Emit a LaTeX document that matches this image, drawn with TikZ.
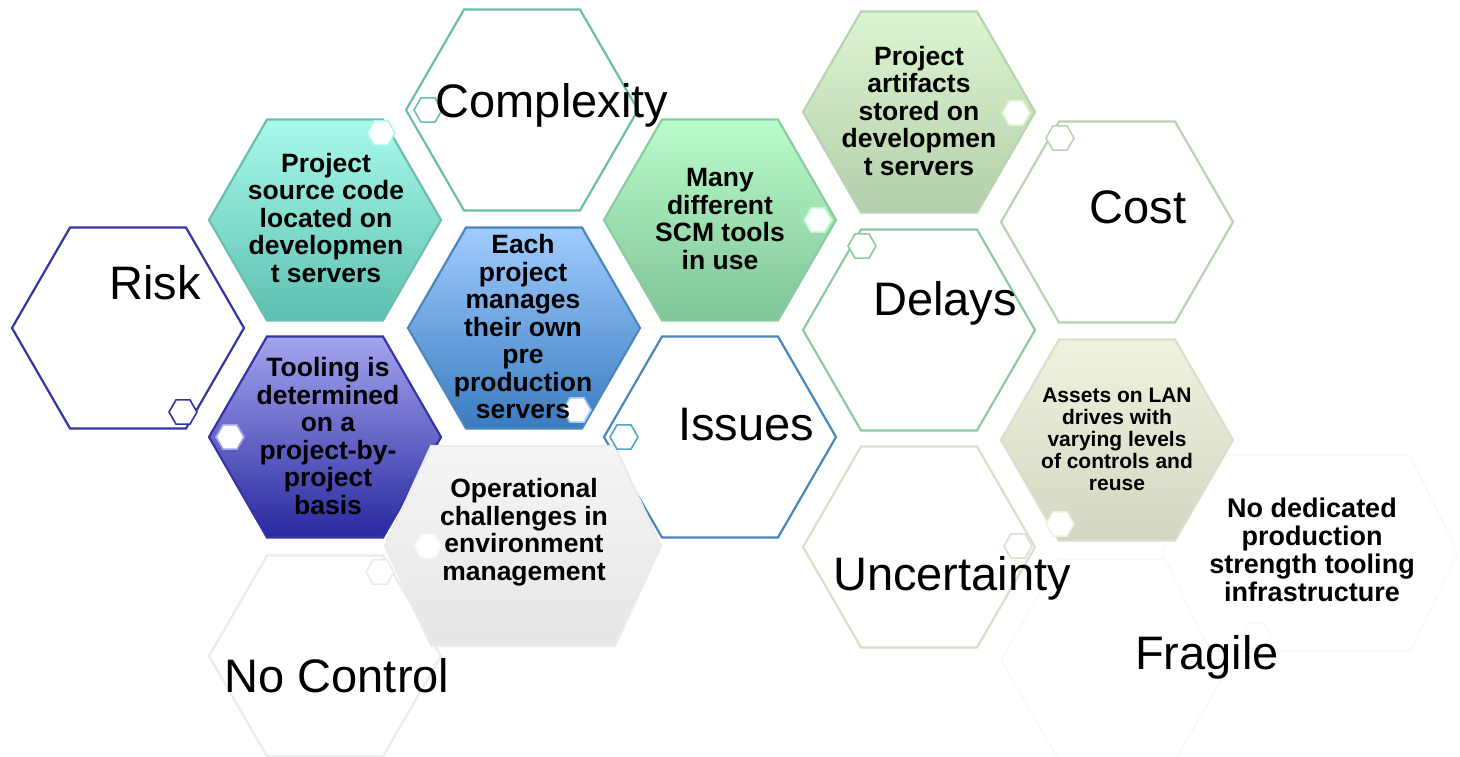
\documentclass[tikz,border=0pt]{standalone}
\usepackage{fontspec}
\setmainfont{Liberation Sans}
\usetikzlibrary{shapes.geometric}
\definecolor{navyline}{HTML}{3434A4}
\definecolor{tealline}{HTML}{6BBDAE}
\definecolor{blueline}{HTML}{4A86BE}
\definecolor{greenline}{HTML}{8ACB9F}
\definecolor{sageline}{HTML}{B7D3AF}
\definecolor{oliveline}{HTML}{DCDDCB}
\definecolor{grayline}{HTML}{EBEBEB}
\definecolor{paleline}{HTML}{F7F7F7}
\definecolor{cyanline}{HTML}{4AA8C8}
\definecolor{tealtop}{HTML}{A8FAEA}
\definecolor{tealbot}{HTML}{5DC0B0}
\definecolor{navytop}{HTML}{A4A4EE}
\definecolor{navybot}{HTML}{2828A0}
\definecolor{bluetop}{HTML}{A0CCFF}
\definecolor{bluebot}{HTML}{3A7BBF}
\definecolor{greentop}{HTML}{BAFCCA}
\definecolor{greenbot}{HTML}{7FC497}
\definecolor{sagetop}{HTML}{DDF6D2}
\definecolor{sagebot}{HTML}{B3CEAA}
\definecolor{olivetop}{HTML}{EFF2DE}
\definecolor{olivebot}{HTML}{D2D7C2}
\definecolor{graytop}{HTML}{F5F5F3}
\definecolor{graybot}{HTML}{E6E6E4}
\tikzset{
    every node/.style={inner sep=0pt, outer sep=0pt}
}
\tikzset{
    cell/.style={regular polygon, regular polygon sides=6, minimum size=232pt,
        line width=2.2pt, fill=white},
    knob/.style={regular polygon, regular polygon sides=6, minimum size=28pt,
        line width=1.6pt, fill=white},
    tag/.style={font=\fontsize{47}{56}\selectfont},
    note/.style={align=center, font=\bfseries\fontsize{26.5}{27.5}\selectfont}
}

\begin{document}
\begin{tikzpicture}[x=1pt, y=-1pt]
	\useasboundingbox (0,0) rectangle (1460,757);

	\node (risk) [cell, draw=navyline] at (128,328) {};
	\node (complexity) [cell, draw=tealline] at (522,110) {};
	\node (issues) [cell, draw=blueline] at (720,437) {};
	\node (delays) [cell, draw=greenline] at (919,330) {};
	\node (cost) [cell, draw=sageline] at (1117,222) {};
	\node (uncertainty) [cell, draw=oliveline] at (919,547) {};
	\node (nocontrol) [cell, draw=grayline] at (325,656) {};
	\node (fragile) [cell, draw=paleline, line width=1.2pt] at (1117,660) {};
	\path[draw=paleline, line width=1.2pt, fill=white] (1162,553) -- (1210,455)
		-- (1410,455) -- (1458,553) -- (1410,651) -- (1210,651) -- cycle;

	\node (srccode) [cell, draw=tealline, top color=tealtop,
		bottom color=tealbot] at (325,220) {};
	\node (tooling) [cell, draw=navyline, top color=navytop,
		bottom color=navybot] at (325,437) {};
	\node (eachproj) [cell, draw=blueline, top color=bluetop,
		bottom color=bluebot] at (524,328) {};
	\node (scm) [cell, draw=greenline, top color=greentop,
		bottom color=greenbot] at (720,220) {};
	\node (artifacts) [cell, draw=sageline, top color=sagetop,
		bottom color=sagebot] at (919,112) {};
	\node (assets) [cell, draw=oliveline, top color=olivetop,
		bottom color=olivebot] at (1117,440) {};
	\path[draw=grayline, line width=2pt, top color=graytop,
		bottom color=graybot] (385,546) -- (431,446) -- (615,446)
		-- (661,546) -- (615,646) -- (431,646) -- cycle;

	\node (k1) [knob, draw=navyline] at (183,412) {};
	\node (k2) [knob, draw=navytop] at (230,437) {};
	\node (k3) [knob, draw=tealtop] at (381,133) {};
	\node (k4) [knob, draw=tealline] at (428,110) {};
	\node (k5) [knob, draw=bluetop] at (577,410) {};
	\node (k6) [knob, draw=cyanline] at (624,437) {};
	\node (k7) [knob, draw=greentop] at (818,220) {};
	\node (k8) [knob, draw=greenline] at (862,246) {};
	\node (k9) [knob, draw=sagetop] at (1016,113) {};
	\node (k10) [knob, draw=sageline] at (1060,138) {};
	\node (k11) [knob, draw=olivetop] at (1060,524) {};
	\node (k12) [knob, draw=oliveline] at (1018,546) {};
	\node (k13) [knob, draw=graytop] at (428,546) {};
	\node (k14) [knob, draw=grayline] at (380,572) {};
	\node (k15) [knob, draw=paleline, line width=1.2pt] at (1257,635) {};

	\node (risktxt) [tag] at (155,283) {Risk};
	\node (complexitytxt) [tag] at (552,105) {Complexity};
	\node (issuestxt) [tag] at (746,425) {Issues};
	\node (delaystxt) [tag] at (945,303) {Delays};
	\node (costtxt) [tag] at (1138,207) {Cost};
	\node (uncertaintytxt) [tag] at (952,578) {Uncertainty};
	\node (nocontroltxt) [tag] at (337,676) {No Control};
	\node (fragiletxt) [tag] at (1207,657) {Fragile};

	\node (srccodetxt) [note] at (326,218) {Project\\source code\\located on\\developmen\\t servers};
	\node (toolingtxt) [note] at (328,436) {Tooling is\\determined\\on a\\project-by-\\project\\basis};
	\node (eachprojtxt) [note] at (523,327) {Each\\project\\manages\\their own\\pre\\production\\servers};
	\node (optxt) [note] at (524,532) {Operational\\challenges in\\environment\\management};
	\node (scmtxt) [note] at (720,219) {Many\\different\\SCM tools\\in use};
	\node (artifactstxt) [note] at (919,111) {Project\\artifacts\\stored on\\developmen\\t servers};
	\node (assetstxt) [note, font=\bfseries\fontsize{21}{22}\selectfont] at (1117,439)
		{Assets on LAN\\drives with\\varying levels\\of controls and\\reuse};
	\node (nodedtxt) [note, font=\bfseries\fontsize{27}{28}\selectfont] at (1312,550)
		{No dedicated\\production\\strength tooling\\infrastructure};
\end{tikzpicture}
\end{document}
